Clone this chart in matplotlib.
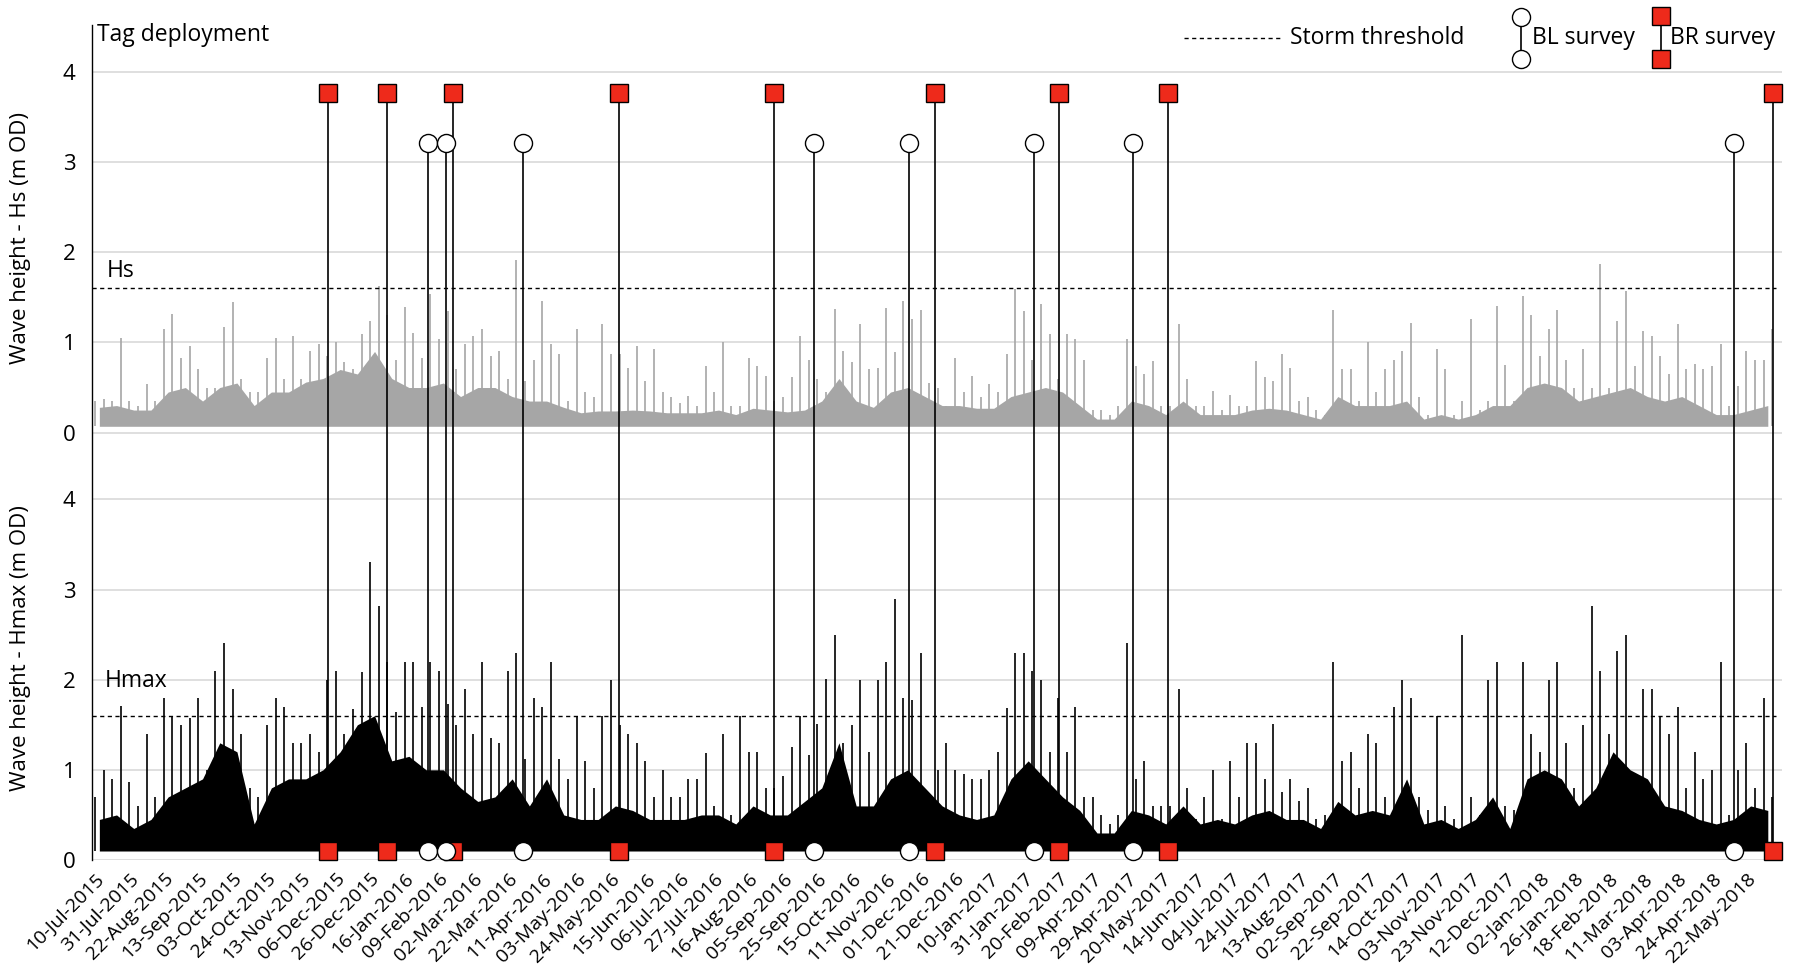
import numpy as np
import matplotlib.pyplot as plt

plt.rcParams['font.family'] = ['Open Sans', 'DejaVu Sans']

# category labels (every ~500th record of the hourly series)
dates = ['10-Jul-2015', '31-Jul-2015', '22-Aug-2015', '13-Sep-2015', '03-Oct-2015',
         '24-Oct-2015', '13-Nov-2015', '06-Dec-2015', '26-Dec-2015', '16-Jan-2016',
         '09-Feb-2016', '02-Mar-2016', '22-Mar-2016', '11-Apr-2016', '03-May-2016',
         '24-May-2016', '15-Jun-2016', '06-Jul-2016', '27-Jul-2016', '16-Aug-2016',
         '05-Sep-2016', '25-Sep-2016', '15-Oct-2016', '11-Nov-2016', '01-Dec-2016',
         '21-Dec-2016', '10-Jan-2017', '31-Jan-2017', '20-Feb-2017', '09-Apr-2017',
         '29-Apr-2017', '20-May-2017', '14-Jun-2017', '04-Jul-2017', '24-Jul-2017',
         '13-Aug-2017', '02-Sep-2017', '22-Sep-2017', '14-Oct-2017', '03-Nov-2017',
         '23-Nov-2017', '12-Dec-2017', '02-Jan-2018', '26-Jan-2018', '18-Feb-2018',
         '11-Mar-2018', '03-Apr-2018', '24-Apr-2018', '22-May-2018']

# peak Hs in each quarter-label bin (m)
hs_peak = [0.35, 0.37, 0.35, 1.05, 0.35, 0.3, 0.54, 0.35, 1.15, 1.32, 0.83, 0.96,
           0.7, 0.5, 0.5, 1.17, 1.45, 0.6, 0.45, 0.45, 0.83, 1.05, 0.6, 1.07,
           0.6, 0.91, 0.98, 0.85, 1.0, 0.78, 0.7, 1.09, 1.24, 1.63, 1.3, 0.8,
           1.39, 1.1, 0.83, 1.54, 1.04, 1.35, 0.7, 0.98, 1.07, 1.15, 0.85, 0.91, 0.6,
           1.91, 0.57, 0.8, 1.46, 0.98, 0.87, 0.35, 1.15, 0.45, 0.4, 1.2, 0.87,
           0.87, 0.72, 0.96, 0.57, 0.93, 0.45, 0.4, 0.33, 0.41, 0.3, 0.74, 0.45, 1.0,
           0.3, 0.3, 0.83, 0.74, 0.63, 0.35, 0.4, 0.62, 1.07, 0.8, 0.6, 0.45,
           1.37, 0.91, 0.78, 1.2, 0.7, 0.72, 1.38, 0.89, 1.46, 1.26, 1.36, 0.55,
           0.5, 0.3, 0.83, 0.45, 0.63, 0.4, 0.54, 0.45, 0.87, 1.59, 1.35, 0.8,
           1.43, 1.09, 0.6, 1.09, 1.04, 0.8, 0.25, 0.25, 0.2, 0.3, 1.04, 0.74, 0.65,
           0.79, 0.3, 0.3, 1.2, 0.6, 0.3, 0.3, 0.46, 0.25, 0.42, 0.3, 0.3,
           0.79, 0.62, 0.57, 0.87, 0.72, 0.35, 0.4, 0.25, 0.2, 1.36, 0.7, 0.7, 0.35,
           1.0, 0.45, 0.7, 0.8, 0.9, 1.22, 0.4, 0.2, 0.93, 0.7, 0.2, 0.35,
           1.26, 0.25, 0.35, 1.4, 0.75, 0.35, 1.51, 1.3, 0.85, 1.15, 1.36, 0.8, 0.5,
           0.93, 0.5, 1.87, 0.5, 1.24, 1.57, 0.74, 1.13, 1.07, 0.85, 0.65, 1.2,
           0.7, 0.76, 0.7, 0.74, 0.98, 0.3, 0.52, 0.91, 0.8, 0.8, 1.15]

# upper edge of the dense Hs band, half-label bins (m)
hs_band = [0.28, 0.3, 0.25, 0.25, 0.45, 0.5, 0.35, 0.5, 0.55, 0.3, 0.45, 0.45,
           0.56, 0.6, 0.7, 0.65, 0.9, 0.6, 0.5, 0.5, 0.55, 0.4, 0.5, 0.5, 0.4,
           0.35, 0.35, 0.28, 0.22, 0.24, 0.24, 0.25, 0.24, 0.22, 0.22, 0.22, 0.25,
           0.2, 0.27, 0.25, 0.23, 0.25, 0.35, 0.6, 0.35, 0.28, 0.45, 0.5, 0.4, 0.3,
           0.3, 0.27, 0.27, 0.4, 0.45, 0.5, 0.45, 0.3, 0.15, 0.15, 0.35, 0.3,
           0.2, 0.35, 0.2, 0.2, 0.2, 0.25, 0.27, 0.25, 0.2, 0.15, 0.4, 0.3,
           0.3, 0.3, 0.35, 0.15, 0.2, 0.15, 0.2, 0.3, 0.3, 0.5, 0.55, 0.5, 0.35,
           0.4, 0.45, 0.5, 0.4, 0.35, 0.4, 0.3, 0.2, 0.2, 0.25, 0.3]

# peak Hmax in each quarter-label bin (m)
hmax_peak = [0.7, 1.0, 0.9, 1.71, 0.86, 0.6, 1.4, 0.7, 1.8, 1.6, 1.5, 1.58,
             1.8, 1.0, 2.1, 2.41, 1.9, 1.4, 0.8, 0.7, 1.5, 1.8, 1.7, 1.3,
             1.3, 1.4, 1.2, 2.0, 2.1, 1.4, 1.67, 2.08, 3.3, 2.82, 2.2, 1.64,
             2.2, 2.2, 1.7, 2.2, 2.1, 1.73, 1.5, 1.9, 1.4, 2.2, 1.35, 1.3, 2.1,
             2.3, 1.12, 1.8, 1.7, 2.2, 1.12, 0.9, 1.6, 1.1, 0.8, 1.6, 2.0,
             1.5, 1.4, 1.3, 1.1, 0.7, 1.0, 0.7, 0.7, 0.9, 0.9, 1.19, 0.6, 1.4,
             0.5, 1.6, 1.2, 1.2, 0.8, 0.8, 0.93, 1.25, 1.6, 1.17, 1.51, 2.01,
             2.5, 1.3, 1.5, 2.0, 1.2, 2.0, 2.2, 2.9, 1.8, 1.78, 2.3, 0.7,
             1.0, 1.3, 1.0, 0.95, 0.9, 0.9, 1.0, 1.2, 1.69, 2.3, 2.3, 2.1,
             2.0, 1.2, 1.8, 1.2, 1.7, 0.7, 0.7, 0.5, 0.4, 0.5, 2.41, 0.9, 1.1,
             0.6, 0.6, 0.6, 1.9, 0.8, 0.45, 0.7, 1.0, 0.45, 1.1, 0.7, 1.3,
             1.3, 0.9, 1.51, 0.75, 0.9, 0.65, 0.8, 0.45, 0.5, 2.2, 1.1, 1.2, 0.8,
             1.4, 1.3, 0.7, 1.7, 2.0, 1.8, 0.7, 0.55, 1.6, 0.6, 0.45, 2.5,
             0.7, 0.5, 2.0, 2.2, 0.6, 0.55, 2.2, 1.4, 1.2, 2.0, 2.2, 1.3, 0.8,
             1.5, 2.82, 2.1, 1.4, 2.32, 2.5, 0.9, 1.9, 1.9, 1.6, 1.4, 1.7,
             0.8, 1.2, 0.9, 1.0, 2.2, 0.5, 1.0, 1.3, 0.8, 1.8, 0.7]

# upper edge of the dense Hmax band, half-label bins (m)
hmax_band = [0.45, 0.5, 0.35, 0.45, 0.7, 0.8, 0.9, 1.3, 1.2, 0.4, 0.8, 0.9,
             0.9, 1.0, 1.2, 1.5, 1.6, 1.1, 1.15, 1.0, 1.0, 0.8, 0.65, 0.7, 0.9,
             0.6, 0.9, 0.5, 0.45, 0.45, 0.6, 0.55, 0.45, 0.45, 0.45, 0.5, 0.5,
             0.4, 0.6, 0.5, 0.5, 0.65, 0.8, 1.3, 0.6, 0.6, 0.9, 1.0, 0.8, 0.6,
             0.5, 0.45, 0.5, 0.9, 1.1, 0.9, 0.7, 0.55, 0.3, 0.3, 0.55, 0.5,
             0.4, 0.6, 0.4, 0.45, 0.4, 0.5, 0.55, 0.45, 0.45, 0.35, 0.65, 0.5,
             0.55, 0.5, 0.9, 0.4, 0.45, 0.35, 0.45, 0.7, 0.35, 0.9, 1.0, 0.9, 0.6,
             0.8, 1.2, 1.0, 0.9, 0.6, 0.55, 0.45, 0.4, 0.45, 0.6, 0.55]

# survey dates, as positions on the label axis
br_survey = [6.77, 8.50, 10.41, 15.22, 19.74, 24.42, 28.03, 31.20, 48.78]
bl_survey = [9.67, 10.21, 12.45, 20.91, 23.65, 27.29, 30.17, 47.65]

OFFSET = 4.74      # Hs panel sits above the Hmax panel
THRESHOLD = 1.6
HS_FLOOR = 0.07
HMAX_FLOOR = 0.1
FS = 16.5

fig = plt.figure(figsize=(18.03, 9.66), dpi=100)
ax = fig.add_axes([0.051, 0.1097, 0.9374, 0.8644])

x = np.arange(len(hs_peak)) / 4
xb = np.arange(len(hs_band)) / 2 + 0.125

for base in (0, OFFSET):
    for v in range(5):
        ax.axhline(base + v, color='#d9d9d9', lw=1.2, zorder=0)

# Hs (grey)
ax.fill_between(xb, HS_FLOOR + OFFSET, np.array(hs_band) + OFFSET,
                color='#a6a6a6', lw=0, zorder=1)
ax.vlines(x, HS_FLOOR + OFFSET, np.array(hs_peak) + OFFSET, color='#a6a6a6', lw=1.2, zorder=1)

# Hmax (black)
ax.fill_between(xb, HMAX_FLOOR, hmax_band, color='black', lw=0, zorder=1)
ax.vlines(x, HMAX_FLOOR, hmax_peak, color='black', lw=1.2, zorder=1)

# storm thresholds
ax.hlines([THRESHOLD, THRESHOLD + OFFSET], -0.09, 48.85, colors='black',
          linestyles=(0, (3, 2.5)), lw=1, zorder=2)

# survey markers
for p in br_survey:
    ax.plot([p, p], [0.1, 3.77 + OFFSET], color='black', lw=1.2, zorder=3)
    ax.plot([p, p], [0.1, 3.77 + OFFSET], ls='none', marker='s', ms=13,
            mfc='#ee2a1b', mec='black', mew=1, zorder=4, clip_on=False)
for p in bl_survey:
    ax.plot([p, p], [0.1, 3.21 + OFFSET], color='black', lw=1.2, zorder=3)
    ax.plot([p, p], [0.1, 3.21 + OFFSET], ls='none', marker='o', ms=13,
            mfc='white', mec='black', mew=1, zorder=4, clip_on=False)

ax.set_xlim(-0.09, 49.04)
ax.set_ylim(0, 9.26)
ax.set_xticks(range(len(dates)))
ax.set_xticklabels(dates, rotation=45, ha='right', rotation_mode='anchor', fontsize=14)
ax.set_yticks([v for v in range(5)] + [OFFSET + v for v in range(5)])
ax.set_yticklabels([str(v) for v in range(5)] * 2, fontsize=16)
ax.tick_params(axis='x', length=0, pad=7)
ax.tick_params(axis='y', length=0, pad=12)
for s in ('top', 'right', 'bottom'):
    ax.spines[s].set_visible(False)
ax.spines['left'].set_linewidth(1)

ax.text(0.34, 6.53, 'Hs', va='center', fontsize=FS)
ax.text(0.29, 1.98, 'Hmax', va='center', fontsize=FS)

fig.text(21 / 1803, 1 - 238 / 966, 'Wave height - Hs (m OD)', rotation=90,
         ha='center', va='center', fontsize=16)
fig.text(21 / 1803, 1 - 648 / 966, 'Wave height - Hmax (m OD)', rotation=90,
         ha='center', va='center', fontsize=16)
fig.text(97 / 1803, 1 - 41 / 966, 'Tag deployment', va='baseline', fontsize=FS)

# legend, drawn in pixel coordinates
ov = fig.add_axes([0, 0, 1, 1])
ov.set_xlim(0, 1803)
ov.set_ylim(966, 0)
ov.axis('off')
ov.plot([1184, 1280], [38, 38], color='black', ls=(0, (3, 2.5)), lw=1)
ov.text(1290, 38, 'Storm threshold', va='center', fontsize=FS)
ov.plot([1521, 1521], [17, 59], color='black', lw=1.2)
ov.plot([1521, 1521], [17, 59], ls='none', marker='o', ms=13, mfc='white', mec='black', mew=1)
ov.text(1532, 38, 'BL survey', va='center', fontsize=FS)
ov.plot([1661, 1661], [16, 59], color='black', lw=1.2)
ov.plot([1661, 1661], [16, 59], ls='none', marker='s', ms=13, mfc='#ee2a1b', mec='black', mew=1)
ov.text(1670, 38, 'BR survey', va='center', fontsize=FS)

fig.savefig('out.png', dpi=100)
